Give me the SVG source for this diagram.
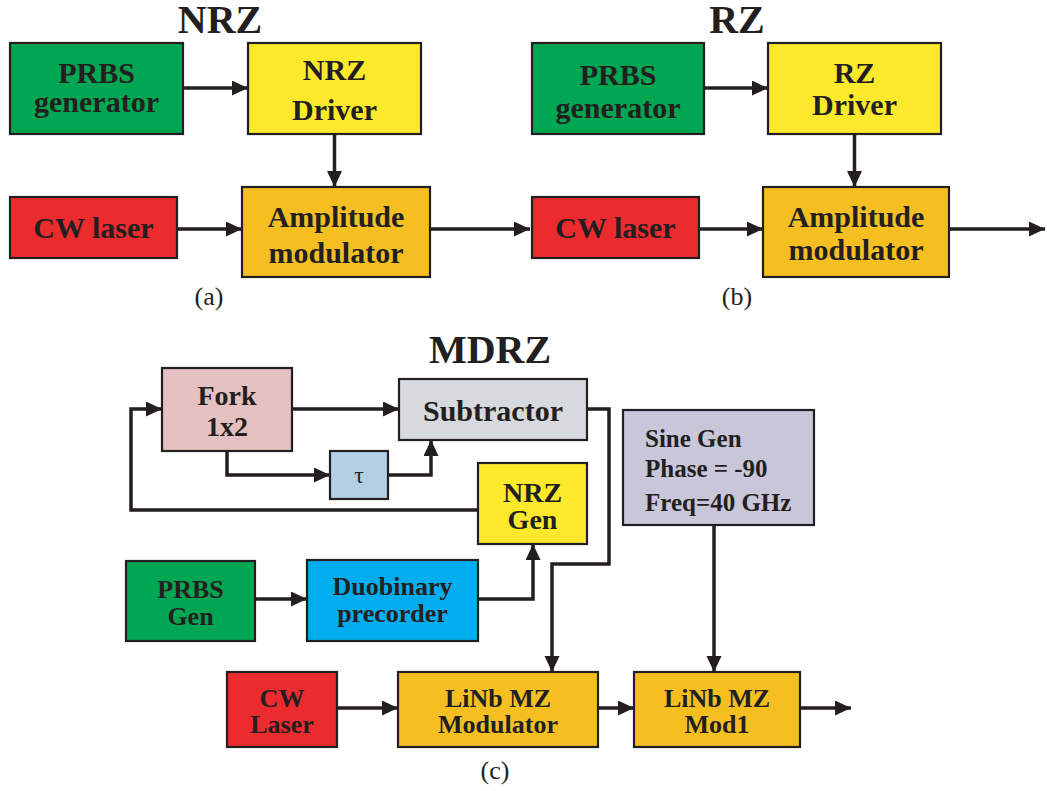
<svg xmlns="http://www.w3.org/2000/svg" width="1047" height="791" viewBox="0 0 1047 791">
<style>
.b{stroke:#231F20;stroke-width:2.2}
.t{font-family:"Liberation Serif","Times New Roman",serif;font-weight:bold;fill:#231F20;text-anchor:middle}
.r{font-family:"Liberation Serif","Times New Roman",serif;fill:#231F20;text-anchor:middle}
.c{fill:none;stroke:#231F20;stroke-width:3.5;stroke-linejoin:miter}
.grn{fill:#00A651}.yel{fill:#FDE92B}.org{fill:#F5BF22}.red{fill:#EC2B2E}
.pnk{fill:#E4C0C0}.gry{fill:#D6D9DD}.tau{fill:#B4CFE4}.cyn{fill:#00AEEF}.lav{fill:#C9C6D9}
</style>
<defs>
<marker id="ah" markerUnits="userSpaceOnUse" markerWidth="17" markerHeight="16" refX="16" refY="7.5" orient="auto">
<path d="M0,0 L16,7.5 L0,15 z" fill="#231F20"/>
</marker>
</defs>
<rect width="1047" height="791" fill="#fff"/>

<!-- titles and captions -->
<text class="t" x="220" y="33" font-size="40">NRZ</text>
<text class="t" x="737" y="33" font-size="40">RZ</text>
<text class="t" x="490" y="363" font-size="40">MDRZ</text>
<text class="r" x="209" y="305" font-size="26">(a)</text>
<text class="r" x="737" y="305" font-size="26">(b)</text>
<text class="r" x="495" y="779" font-size="26">(c)</text>

<!-- (a) -->
<g id="a_prbs"><rect class="b grn" x="10" y="43" width="173" height="91"/>
<text class="t" x="96.5" y="83" font-size="30">PRBS</text><text class="t" x="96.5" y="112" font-size="30">generator</text></g>
<g id="a_driver"><rect class="b yel" x="248" y="43" width="173" height="91"/>
<text class="t" x="334.5" y="80" font-size="30">NRZ</text><text class="t" x="334.5" y="120" font-size="30">Driver</text></g>
<g id="a_cw"><rect class="b red" x="10" y="197" width="167" height="61"/>
<text class="t" x="93.5" y="238" font-size="30">CW laser</text></g>
<g id="a_am"><rect class="b org" x="242" y="187" width="188" height="90"/>
<text class="t" x="336" y="227" font-size="30">Amplitude</text><text class="t" x="336" y="263" font-size="30">modulator</text></g>

<!-- (b) -->
<g id="b_prbs"><rect class="b grn" x="532" y="43" width="172" height="91"/>
<text class="t" x="618" y="85" font-size="30">PRBS</text><text class="t" x="618" y="118" font-size="30">generator</text></g>
<g id="b_driver"><rect class="b yel" x="768" y="43" width="173" height="91"/>
<text class="t" x="854.5" y="83" font-size="30">RZ</text><text class="t" x="854.5" y="115" font-size="30">Driver</text></g>
<g id="b_cw"><rect class="b red" x="532" y="197" width="167" height="61"/>
<text class="t" x="615.5" y="238" font-size="30">CW laser</text></g>
<g id="b_am"><rect class="b org" x="763" y="187" width="186" height="90"/>
<text class="t" x="856" y="227" font-size="30">Amplitude</text><text class="t" x="856" y="260" font-size="30">modulator</text></g>

<!-- (c) -->
<g id="c_fork"><rect class="b pnk" x="162" y="368" width="130" height="83"/>
<text class="t" x="227" y="405" font-size="28">Fork</text><text class="t" x="227" y="436" font-size="28">1x2</text></g>
<g id="c_sub"><rect class="b gry" x="399" y="379" width="188" height="61"/>
<text class="t" x="493" y="421" font-size="30">Subtractor</text></g>
<g id="c_tau"><rect class="b tau" x="330" y="451" width="58" height="48"/>
<text class="r" x="359" y="483" font-size="24">τ</text></g>
<g id="c_nrzgen"><rect class="b yel" x="478" y="463" width="109" height="81"/>
<text class="t" x="532.5" y="502" font-size="28">NRZ</text><text class="t" x="532.5" y="529" font-size="28">Gen</text></g>
<g id="c_prbs"><rect class="b grn" x="126" y="561" width="129" height="80"/>
<text class="t" x="190.5" y="598" font-size="26">PRBS</text><text class="t" x="190.5" y="625" font-size="26">Gen</text></g>
<g id="c_duo"><rect class="b cyn" x="307" y="560" width="171" height="81"/>
<text class="t" x="392.5" y="595" font-size="26">Duobinary</text><text class="t" x="392.5" y="622" font-size="26">precorder</text></g>
<g id="c_sine"><rect class="b lav" x="623" y="410" width="191" height="115"/>
<text class="t" x="645" y="447" font-size="25" text-anchor="start" style="text-anchor:start">Sine Gen</text>
<text class="t" x="645" y="477" font-size="25" style="text-anchor:start">Phase = -90</text>
<text class="t" x="645" y="511" font-size="25" style="text-anchor:start">Freq=40 GHz</text></g>
<g id="c_cw"><rect class="b red" x="227" y="672" width="110" height="75"/>
<text class="t" x="282" y="707" font-size="26">CW</text><text class="t" x="282" y="733" font-size="26">Laser</text></g>
<g id="c_mod"><rect class="b org" x="398" y="672" width="200" height="75"/>
<text class="t" x="498" y="707" font-size="26">LiNb MZ</text><text class="t" x="498" y="733" font-size="26">Modulator</text></g>
<g id="c_mod1"><rect class="b org" x="634" y="672" width="166" height="75"/>
<text class="t" x="717" y="707" font-size="26">LiNb MZ</text><text class="t" x="717" y="733" font-size="26">Mod1</text></g>

<g id="connectors">
<!-- (a) -->
<path class="c" d="M183,88 H248" marker-end="url(#ah)"/>
<path class="c" d="M334.5,134 V187" marker-end="url(#ah)"/>
<path class="c" d="M177,229 H242" marker-end="url(#ah)"/>
<path class="c" d="M430,229 H530" marker-end="url(#ah)"/>
<!-- (b) -->
<path class="c" d="M704,88 H768" marker-end="url(#ah)"/>
<path class="c" d="M854.5,134 V187" marker-end="url(#ah)"/>
<path class="c" d="M699,229 H763" marker-end="url(#ah)"/>
<path class="c" d="M949,229 H1045" marker-end="url(#ah)"/>
<!-- (c) -->
<path class="c" d="M292,409 H399" marker-end="url(#ah)"/>
<path class="c" d="M227,451 V475 H330" marker-end="url(#ah)"/>
<path class="c" d="M388,475 H431 V440" marker-end="url(#ah)"/>
<path class="c" d="M478,510 H131 V409 H162" marker-end="url(#ah)"/>
<path class="c" d="M255,599 H307" marker-end="url(#ah)"/>
<path class="c" d="M478,599 H533 V544" marker-end="url(#ah)"/>
<path class="c" d="M587,409 H609 V564 H552 V672" marker-end="url(#ah)"/>
<path class="c" d="M714,525 V672" marker-end="url(#ah)"/>
<path class="c" d="M337,708 H398" marker-end="url(#ah)"/>
<path class="c" d="M598,708 H634" marker-end="url(#ah)"/>
<path class="c" d="M800,708 H851" marker-end="url(#ah)"/>
</g>
</svg>
